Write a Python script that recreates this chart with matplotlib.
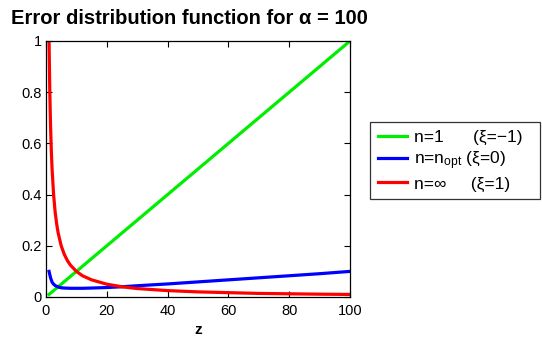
import matplotlib
matplotlib.use("Agg")
import matplotlib.pyplot as plt

plt.rcParams['font.family'] = ['Liberation Sans', 'DejaVu Sans']
plt.rcParams['mathtext.fontset'] = 'custom'
plt.rcParams['mathtext.rm'] = 'Liberation Sans'
plt.rcParams['mathtext.it'] = 'Liberation Sans:italic'

# data
z_green = [1, 100]
y_green = [0.01, 1.0]

z_blue = [1, 1.5, 2, 2.5, 3, 4, 5, 6, 8, 10, 12, 15, 20, 25, 30, 40, 50, 60, 70, 80, 90, 100]
y_blue = [0.1, 0.075, 0.058, 0.05, 0.045, 0.039, 0.036, 0.035, 0.034, 0.034, 0.034, 0.035,
          0.037, 0.040, 0.044, 0.051, 0.059, 0.067, 0.075, 0.083, 0.091, 0.1]

z_red = [1, 1.25, 1.5, 1.75, 2, 2.5, 3, 3.5, 4, 5, 6, 7, 8, 10, 12, 15, 20, 25, 30, 40, 50, 60, 70, 80, 90, 100]
y_red = [1.0, 0.8, 0.667, 0.571, 0.5, 0.4, 0.333, 0.286, 0.25, 0.2, 0.167, 0.143, 0.125, 0.1,
         0.083, 0.067, 0.05, 0.04, 0.033, 0.025, 0.02, 0.017, 0.014, 0.0125, 0.011, 0.01]

labels = ["n=1      (ξ=\u22121)  ", "n=n$_{\\mathrm{opt}}$ (ξ=0)", "n=\u221e     (ξ=1)"]
xticks = [0, 20, 40, 60, 80, 100]
yticks = [0, 0.2, 0.4, 0.6, 0.8, 1]
yticklabels = ["0", "0.2", "0.4", "0.6", "0.8", "1"]

fig = plt.figure(figsize=(5.42, 3.37), dpi=100)
ax = fig.add_axes([46/542, 1-297/337, (350-46)/542, (297-41)/337])

lg, = ax.plot(z_green, y_green, color='#00ee00', lw=2.3)
lb, = ax.plot(z_blue, y_blue, color='#0000ff', lw=2.3)
lr, = ax.plot(z_red, y_red, color='#ff0000', lw=2.3)

ax.set_xlim(0, 100)
ax.set_ylim(0, 1)
ax.set_xticks(xticks)
ax.set_xticklabels([str(t) for t in xticks])
ax.set_yticks(yticks)
ax.set_yticklabels(yticklabels)
ax.tick_params(direction='in', top=True, right=True, labelsize=10.5, length=4, width=0.8)
ax.tick_params(axis='x', pad=5)
ax.tick_params(axis='y', pad=3)
for s in ax.spines.values():
    s.set_linewidth(0.9)
ax.set_xlabel("z", fontsize=11, fontweight='bold', labelpad=4)
fig.text(11/542, 1-18/337, "Error distribution function for α = 100", fontsize=14.5,
         fontweight='bold', va='center', ha='left')

leg = fig.legend([lg, lb, lr], labels, loc='upper left', bbox_to_anchor=(370/542, 1-122/337),
                 borderaxespad=0, fontsize=12.5, handlelength=1.7, frameon=True, fancybox=False,
                 borderpad=0.45, labelspacing=0.25, handletextpad=0.4)
leg.get_frame().set_edgecolor('black')
leg.get_frame().set_linewidth(0.9)

fig.savefig("out.png", dpi=100)
